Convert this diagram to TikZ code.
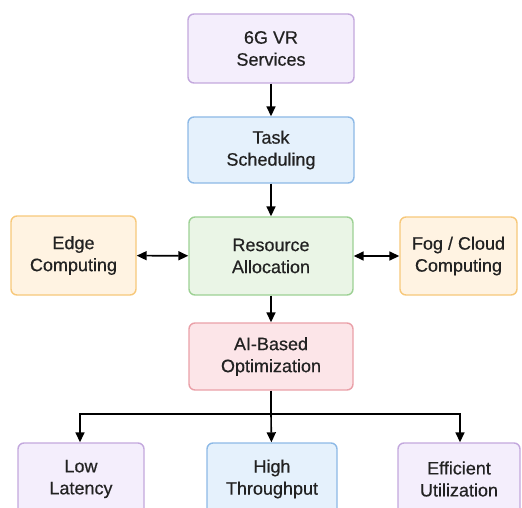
\documentclass[tikz,border=0pt]{standalone}
\usepackage{fontspec}
\setmainfont{Liberation Sans}
\newfontfamily\boxfont{Liberation Sans}[FakeBold=0.5]
\usetikzlibrary{arrows.meta,positioning}
\definecolor{txtgray}{HTML}{222222}
\definecolor{purplefill}{HTML}{F4EEFC}
\definecolor{purpleline}{HTML}{C3A8DD}
\definecolor{bluefill}{HTML}{E5F1FC}
\definecolor{blueline}{HTML}{8DB9E6}
\definecolor{greenfill}{HTML}{EAF5E6}
\definecolor{greenline}{HTML}{9DD194}
\definecolor{orangefill}{HTML}{FFF3E2}
\definecolor{orangeline}{HTML}{F7C87A}
\definecolor{redfill}{HTML}{FCE5E8}
\definecolor{redline}{HTML}{EAA0A8}
\tikzstyle{box}=[draw, rounded corners=6pt, line width=1.4pt, align=center, inner sep=0pt,
  font=\boxfont\fontsize{18}{22}\selectfont, text=txtgray]
\tikzstyle{link}=[draw, line width=1.6pt, -{Triangle[length=10pt,width=9pt]}]
\tikzstyle{duplex}=[draw, line width=1.6pt, {Triangle[length=10pt,width=9pt]}-{Triangle[length=10pt,width=9pt]}]

\begin{document}
\begin{tikzpicture}[x=1pt, y=-1pt]
\useasboundingbox (0,0) rectangle (522,508);

% the boxes of the chain
\foreach \pos/\name/\w/\h/\fc/\dc/\txt in {
  {(271,48.5)/svc/166/69/purplefill/purpleline/{6G VR\\Services}},
  {(271,150)/sched/166/66/bluefill/blueline/{Task\\Scheduling}},
  {(271,256)/res/164/78/greenfill/greenline/{Resource\\Allocation}},
  {(73.5,255.5)/edge/125/79/orangefill/orangeline/{Edge\\Computing}},
  {(458.5,256)/fog/117/78/orangefill/orangeline/{Fog / Cloud\\Computing}},
  {(271,356.5)/opt/164/67/redfill/redline/{AI-Based\\Optimization}},
  {(81,479)/lowlat/126/72/purplefill/purpleline/{Low\\Latency}},
  {(272,479)/thru/130/72/bluefill/blueline/{High\\Throughput}},
  {(459,479)/util/122/72/purplefill/purpleline/{Efficient\\Utilization}}}
\node[box, fill=\fc, draw=\dc, minimum width=\w pt, minimum height=\h pt] (\name) at \pos {\txt};

% vertical flow
\foreach \source/\dest in {svc/sched, sched/res, res/opt}
\path[link] (\source) -- (\dest);

% side links
\path[duplex] (edge) -- (res);
\path[duplex] (res) -- (fog);

% split into the three goals
\coordinate (split) at (271,414);
\path[draw, line width=1.6pt] (opt) -- (split);
\path[link] (split) -- (thru);
\path[link] (split) -| (lowlat.north -| 80,0);
\path[link] (split) -| (util.north -| 460,0);

\end{tikzpicture}
\end{document}
